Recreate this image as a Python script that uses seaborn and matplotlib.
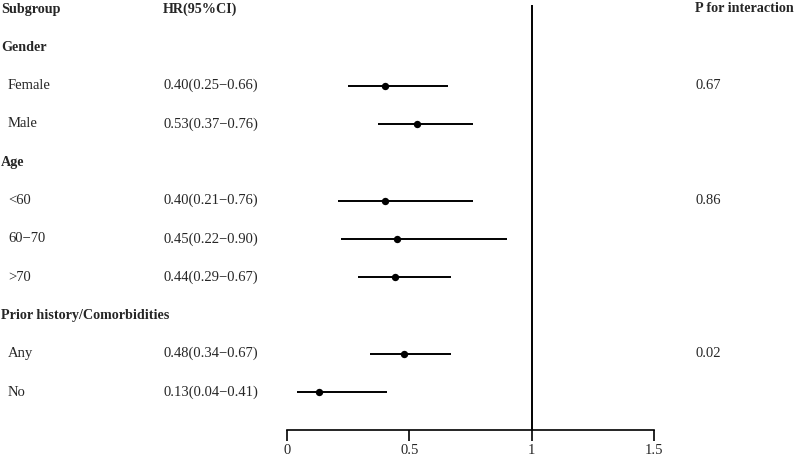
import matplotlib
matplotlib.use("Agg")
import matplotlib.pyplot as plt
import matplotlib.transforms as mtransforms
import seaborn as sns
import pandas as pd

sns.set_theme(style="white")
plt.rcParams['font.family'] = ['Liberation Serif', 'DejaVu Serif']

# ---- data ----
row_labels = ["Gender", "Female", "Male", "Age", "<60", "60\u221270", ">70",
              "Prior history/Comorbidities", "Any", "No"]
is_header = [True, False, False, True, False, False, False, True, False, False]
hr = [None, 0.40, 0.53, None, 0.40, 0.45, 0.44, None, 0.48, 0.13]
lower = [None, 0.25, 0.37, None, 0.21, 0.22, 0.29, None, 0.34, 0.04]
upper = [None, 0.66, 0.76, None, 0.76, 0.90, 0.67, None, 0.67, 0.41]
p_interaction = [None, "0.67", None, None, "0.86", None, None, None, "0.02", None]
x_ticks = [0, 0.5, 1, 1.5]
x_tick_labels = ["0", "0.5", "1", "1.5"]
ref_line = 1

rows = list(range(1, len(row_labels) + 1))
df = pd.DataFrame({"row": rows, "label": row_labels, "header": is_header,
                   "hr": hr, "lo": lower, "hi": upper, "p": p_interaction})
est = df[~df["header"]].copy()
est[["hr", "lo", "hi"]] = est[["hr", "lo", "hi"]].astype(float)

W, H = 796, 459
fig = plt.figure(figsize=(W / 100, H / 100), dpi=100)
ax = fig.add_axes([287 / W, (H - 430) / H, (654 - 287) / W, (430 - 5) / H])

y0, dy = 9.0, 38.3
ax.set_ylim((430 - y0) / dy, (5 - y0) / dy)
ax.set_xlim(0, 1.5)

# CI lines
ax.hlines(est["row"], est["lo"], est["hi"], color="black", linewidth=1.4, zorder=2)
# points
sns.scatterplot(data=est, x="hr", y="row", ax=ax, color="black", s=28,
                edgecolor="black", linewidth=0, zorder=3, legend=False)
# reference line
ax.axvline(ref_line, color="black", linewidth=1.4, zorder=1)

for s in ["top", "right", "left"]:
    ax.spines[s].set_visible(False)
ax.spines["bottom"].set_color("black")
ax.spines["bottom"].set_linewidth(1.2)
ax.set_xticks(x_ticks)
ax.set_xticklabels(x_tick_labels)
ax.tick_params(axis="x", direction="out", length=8, width=1.2, color="black",
               labelsize=10.5, pad=2, bottom=True)
ax.set_yticks([])
ax.set_xlabel("")
ax.set_ylabel("")
ax.set_facecolor("none")

tr = mtransforms.blended_transform_factory(fig.transFigure, ax.transData)
fs = 10.5
fsb = 10.2
hy = 0
ax.text(1 / W, hy, "Subgroup", transform=tr, fontsize=fsb, fontweight="bold",
        va="center", ha="left", clip_on=False)
ax.text(163 / W, hy, "HR(95%CI)", transform=tr, fontsize=fsb, fontweight="bold",
        va="center", ha="left", clip_on=False)
ax.text(695 / W, hy, "P for interaction", transform=tr, fontsize=fsb, fontweight="bold",
        va="center", ha="left", clip_on=False)

for _, r in df.iterrows():
    if r["header"]:
        ax.text(1 / W, r["row"], r["label"], transform=tr, fontsize=fsb,
                fontweight="bold", va="center", ha="left", clip_on=False)
    else:
        ax.text(8 / W, r["row"], r["label"], transform=tr, fontsize=fs,
                va="center", ha="left", clip_on=False)
        txt = f"{r['hr']:.2f}({r['lo']:.2f}\u2212{r['hi']:.2f})"
        ax.text(163 / W, r["row"], txt, transform=tr, fontsize=fs,
                va="center", ha="left", clip_on=False)
    if r["p"] is not None:
        ax.text(695 / W, r["row"], r["p"], transform=tr, fontsize=fs,
                va="center", ha="left", clip_on=False)

fig.savefig("out.png", dpi=100)
